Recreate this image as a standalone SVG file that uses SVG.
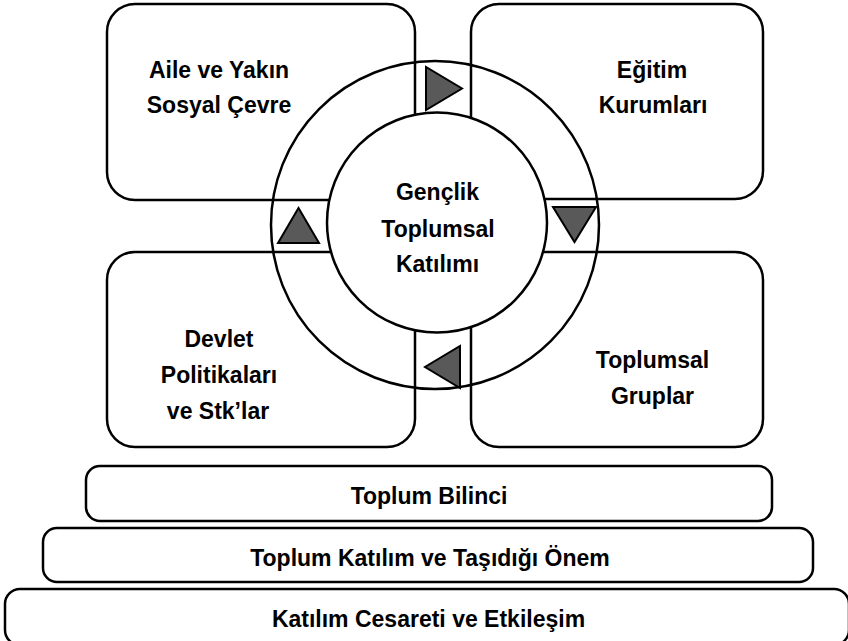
<svg xmlns="http://www.w3.org/2000/svg" width="848" height="641" viewBox="0 0 848 641">
<style>
.box{fill:#fff;stroke:#000;stroke-width:2.5}
.ring{fill:none;stroke:#000;stroke-width:2.5}
.hub{fill:#fff;stroke:#000;stroke-width:2.5}
.tri{fill:#595959;stroke:#000;stroke-width:2;stroke-linejoin:miter}
.t{font-family:"Liberation Sans",Arial,Helvetica,sans-serif;font-weight:bold;font-size:23px;fill:#000;text-anchor:middle}
</style>
<rect width="848" height="641" fill="#fff"/>
<g id="aile">
<rect class="box" x="107" y="4" width="308" height="196" rx="28" ry="28"/>
<text class="t" x="219" y="78">Aile ve Yakın</text>
<text class="t" x="219" y="113">Sosyal Çevre</text>
</g>
<g id="egitim">
<rect class="box" x="471" y="4" width="292" height="195" rx="28" ry="28"/>
<text class="t" x="652" y="78">Eğitim</text>
<text class="t" x="653" y="113">Kurumları</text>
</g>
<g id="devlet">
<rect class="box" x="107" y="252" width="308" height="195" rx="28" ry="28"/>
<text class="t" x="219" y="347">Devlet</text>
<text class="t" x="219" y="383">Politikaları</text>
<text class="t" x="218" y="419">ve Stk’lar</text>
</g>
<g id="gruplar">
<rect class="box" x="471" y="252" width="292" height="195" rx="28" ry="28"/>
<text class="t" x="652.5" y="368">Toplumsal</text>
<text class="t" x="652.5" y="404">Gruplar</text>
</g>
<g id="connectors">
<circle class="ring" cx="435" cy="225" r="164"/>
<polygon class="tri" points="426,67 426,110 462,88.5"/>
<polygon class="tri" points="553,207 596,207 574.5,242"/>
<polygon class="tri" points="460,346 460,388 425,367"/>
<polygon class="tri" points="298.5,208 278,243 319,243"/>
</g>
<g id="center">
<circle class="hub" cx="437" cy="222.5" r="110"/>
<text class="t" x="437.5" y="200">Gençlik</text>
<text class="t" x="438" y="236.5">Toplumsal</text>
<text class="t" x="437.5" y="272">Katılımı</text>
</g>
<g id="bilinci">
<rect class="box" x="86" y="466" width="686" height="55" rx="14" ry="14"/>
<text class="t" x="429" y="504">Toplum Bilinci</text>
</g>
<g id="onem">
<rect class="box" x="43" y="528" width="770" height="54" rx="14" ry="14"/>
<text class="t" x="430" y="566">Toplum Katılım ve Taşıdığı Önem</text>
</g>
<g id="cesaret">
<rect class="box" x="5" y="589" width="844" height="56" rx="15" ry="15"/>
<text class="t" x="428.5" y="627">Katılım Cesareti ve Etkileşim</text>
</g>
</svg>
